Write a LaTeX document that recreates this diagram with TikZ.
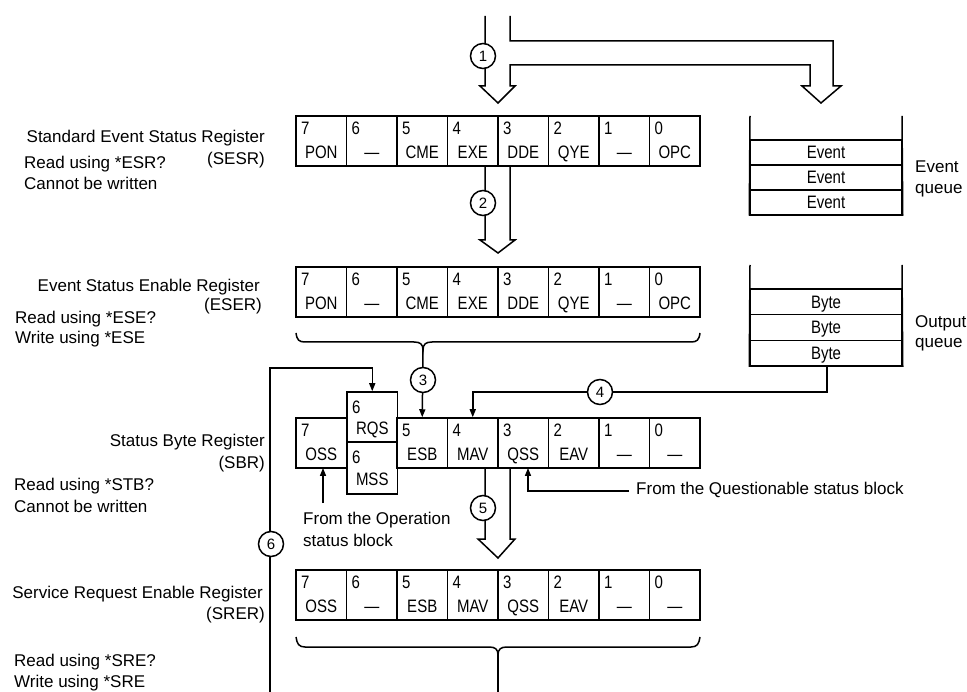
\documentclass[tikz,border=0pt]{standalone}
\usepackage{fontspec}
\setmainfont{Liberation Sans}
\usepackage{graphicx}
\usetikzlibrary{arrows.meta}
\newcommand{\tallt}[1]{\scalebox{1}[1.2]{#1}}
\newcommand{\regcell}[6]{%
  \node[cell, minimum height=#4pt] (#1) at ({296+50.5*#2+25.25},{#3+#4/2}) {};
  \node[digit, anchor=base west] (#1d) at ({296+50.5*#2+5},{#3+18.5}) {\tallt{#5}};
  \node[cname, anchor=base] (#1n) at ({296+50.5*#2+25.25},{#3+42.5}) {\tallt{#6}};
}
\begin{document}
\begin{tikzpicture}[x=1pt,y=-1pt,
  ln/.style={line width=1.5pt, line join=miter},
  cell/.style={draw, line width=1.5pt, minimum width=50.5pt, inner sep=0pt},
  digit/.style={font=\fontsize{15}{15}\selectfont, inner sep=0pt},
  cname/.style={font=\fontsize{15}{15}\selectfont, inner sep=0pt},
  lbl/.style={font=\fontsize{17}{17}\selectfont, inner sep=0pt},
  numc/.style={circle, draw, fill=white, line width=1.5pt, minimum size=25pt, inner sep=0pt, font=\fontsize{15}{15}\selectfont},
  sarrow/.style={line width=1.5pt, -{Triangle[length=8pt,width=6pt]}},
  qrow/.style={draw, line width=1.5pt, minimum width=152pt, inner sep=0pt, text height=12.5pt, text depth=0pt, font=\fontsize{15}{15}\selectfont}
]
\fill[white] (0,0) rectangle (967,692);
\useasboundingbox (0,0) rectangle (967,692);

% ---------- registers ----------
\foreach \b/\t [count=\i from 0] in {7/PON,6/—,5/CME,4/EXE,3/DDE,2/QYE,1/—,0/OPC}
  {\regcell{sesr\b}{\i}{116}{50}{\b}{\t}}
\foreach \b/\t [count=\i from 0] in {7/PON,6/—,5/CME,4/EXE,3/DDE,2/QYE,1/—,0/OPC}
  {\regcell{eser\b}{\i}{267}{50}{\b}{\t}}
\foreach \i/\b/\t in {0/7/OSS,2/5/ESB,3/4/MAV,4/3/QSS,5/2/EAV,6/1/—,7/0/—}
  {\regcell{sbr\b}{\i}{418}{50}{\b}{\t}}
\node[cell, minimum height=50pt] (sbr6a) at (372.25,417) {};
\node[digit, anchor=base west] (sbr6ad) at (352,413.5) {\tallt{6}};
\node[cname, anchor=base] (sbr6an) at (372.25,434.5) {\tallt{RQS}};
\node[cell, minimum height=52pt] (sbr6b) at (372.25,468) {};
\node[digit, anchor=base west] (sbr6bd) at (352,463.5) {\tallt{6}};
\node[cname, anchor=base] (sbr6bn) at (372.25,485.5) {\tallt{MSS}};
\foreach \b/\t [count=\i from 0] in {7/OSS,6/—,5/ESB,4/MAV,3/QSS,2/EAV,1/—,0/—}
  {\regcell{srer\b}{\i}{570}{50}{\b}{\t}}

% ---------- queues ----------
\node[qrow, minimum height=25pt] (ev1) at (826,152.5) {\tallt{Event}};
\node[qrow, minimum height=25pt] (ev2) at (826,177.5) {\tallt{Event}};
\node[qrow, minimum height=25pt] (ev3) at (826,202.5) {\tallt{Event}};
\coordinate (evtl) at (750,116);
\coordinate (evtr) at (902,116);
\draw[ln] (evtl) -- (ev3.south west);
\draw[ln] (evtr) -- (ev3.south east);
\node[qrow, minimum height=25.67pt] (by1) at (826,301.8) {\tallt{Byte}};
\node[qrow, minimum height=25.67pt] (by2) at (826,327.5) {\tallt{Byte}};
\node[qrow, minimum height=25.67pt] (by3) at (826,353.2) {\tallt{Byte}};
\coordinate (oqtl) at (750,265);
\coordinate (oqtr) at (902,265);
\draw[ln] (oqtl) -- (by3.south west);
\draw[ln] (oqtr) -- (by3.south east);
\node[lbl, anchor=base west] (evq1) at (915,173) {Event};
\node[lbl, anchor=base west] (evq2) at (915,194) {queue};
\node[lbl, anchor=base west] (oq1) at (915,328) {Output};
\node[lbl, anchor=base west] (oq2) at (915,348) {queue};

% ---------- hollow arrow 1 (to SESR and event queue) ----------
\coordinate (a1l) at (485,16);
\coordinate (a1r) at (510,16);
\draw[ln] (a1l) -- (485,86) -- (480,86) -- (498,103) -- (515,86) -- (510,86) -- (510,65)
  -- (810,65) -- (810,86) -- (802,86) -- (821,103) -- (841,86) -- (833,86) -- (833,41)
  -- (510,41) -- (a1r);
% ---------- hollow arrow 2 ----------
\draw[ln] (485,166) -- (485,240) -- (480,240) -- (498,253) -- (515,240) -- (510,240) -- (510,166);
% ---------- hollow arrow 5 ----------
\draw[ln] (485,468) -- (485,539) -- (478,539) -- (498,558) -- (515,539) -- (510,539) -- (510,468);

% ---------- brace under ESER, arrow 3 ----------
\coordinate (br3) at (423,350);
\draw[ln] (296,333) .. controls (297,340) and (299,342) .. (305,342) -- (414,342)
  .. controls (420,342) and (423,344) .. (br3)
  .. controls (423,344) and (426,342) .. (432,342) -- (691,342)
  .. controls (697,342) and (699,340) .. (700,333);
\draw[sarrow] (br3) -- (sbr5.north);

% ---------- brace under SRER ----------
\coordinate (br6) at (498,655);
\coordinate (br6end) at (498,692);
\draw[ln] (296,637) .. controls (297,644) and (299,647) .. (305,647) -- (489,647)
  .. controls (495,647) and (498,649) .. (br6)
  .. controls (498,649) and (501,647) .. (507,647) -- (691,647)
  .. controls (697,647) and (699,644) .. (700,637);
\draw[ln] (br6) -- (br6end);

% ---------- arrow 4 ----------
\coordinate (a4s) at (827,392);
\draw[sarrow] (by3.south -| a4s) -- (a4s) -| (sbr4.north);

% ---------- arrow 6 ----------
\coordinate (a6s) at (270,692);
\coordinate (a6c) at (372.25,368);
\draw[sarrow] (a6s) |- (a6c) -- (sbr6a.north);

% ---------- status block inputs ----------
\coordinate (opin) at (323,503);
\draw[sarrow] (opin) -- (323,468);
\coordinate (qsin) at (629,491);
\draw[sarrow] (qsin) -| (528,468);
\node[lbl, anchor=base west] (optx1) at (303,524) {From the Operation};
\node[lbl, anchor=base west] (optx2) at (303,546) {status block};
\node[lbl, anchor=base west] (qstx) at (636,494) {From the Questionable status block};

% ---------- numbered circles ----------
\node[numc] (n1) at (483,56) {1};
\node[numc] (n2) at (483,203) {2};
\node[numc] (n3) at (423,380) {3};
\node[numc] (n4) at (600,392) {4};
\node[numc] (n5) at (483,508) {5};
\node[numc] (n6) at (271,544) {6};

% ---------- left labels ----------
\node[lbl, anchor=base east] (s1) at (265,143) {Standard Event Status Register};
\node[lbl, anchor=base east] (s2) at (265,165) {(SESR)};
\node[lbl, anchor=base west] (s3) at (24,169) {Read using *ESR?};
\node[lbl, anchor=base west] (s4) at (24,190) {Cannot be written};

\node[lbl, anchor=base east] (e1) at (260,292) {Event Status Enable Register};
\node[lbl, anchor=base east] (e2) at (262,311) {(ESER)};
\node[lbl, anchor=base west] (e3) at (15,324) {Read using *ESE?};
\node[lbl, anchor=base west] (e4) at (15,344) {Write using *ESE};

\node[lbl, anchor=base east] (b1) at (265,447) {Status Byte Register};
\node[lbl, anchor=base east] (b2) at (265,468) {(SBR)};
\node[lbl, anchor=base west] (b3) at (14,490) {Read using *STB?};
\node[lbl, anchor=base west] (b4) at (14,512) {Cannot be written};

\node[lbl, anchor=base east] (r1) at (263,598) {Service Request Enable Register};
\node[lbl, anchor=base east] (r2) at (265,619) {(SRER)};
\node[lbl, anchor=base west] (r3) at (14,666) {Read using *SRE?};
\node[lbl, anchor=base west] (r4) at (14,687) {Write using *SRE};
\end{tikzpicture}
\end{document}
